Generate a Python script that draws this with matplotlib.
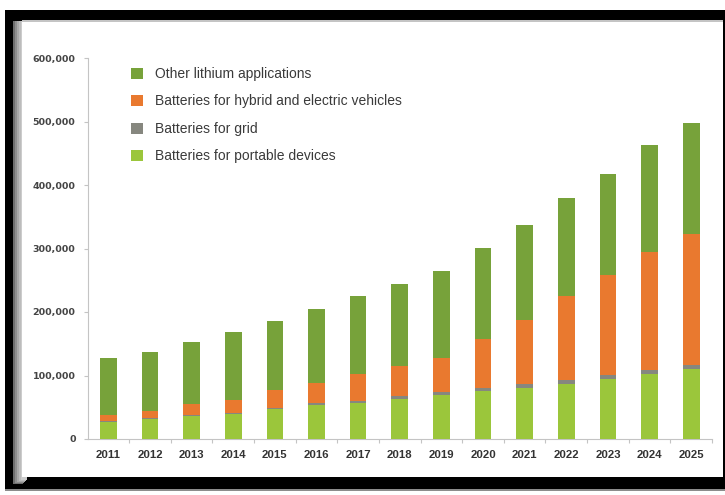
import numpy as np
import matplotlib
matplotlib.use('Agg')
import matplotlib.pyplot as plt
from matplotlib.patches import Rectangle
from matplotlib.ticker import FuncFormatter, MultipleLocator

years = ['2011', '2012', '2013', '2014', '2015', '2016', '2017', '2018',
         '2019', '2020', '2021', '2022', '2023', '2024', '2025']

# tonnes per year, stacked bottom to top
portable = [27500, 31000, 36000, 39500, 46500, 53500, 56500, 63500,
            69500, 75500, 80000, 86500, 95000, 102500, 110000]
grid = [1500, 1500, 2000, 2000, 2500, 2500, 3000, 4000,
        5000, 5000, 7000, 6500, 5500, 6000, 6500]
vehicles = [8500, 12000, 16500, 20500, 28000, 32500, 42500, 47000,
            53000, 76500, 100500, 131500, 158000, 186500, 206500]
other = [89500, 93000, 98500, 106000, 109500, 116500, 123500, 130000,
         137500, 143500, 149500, 155000, 159500, 168000, 174500]

series = [
    ('Batteries for portable devices', portable, '#9bc63b'),
    ('Batteries for grid', grid, '#86877f'),
    ('Batteries for hybrid and electric vehicles', vehicles, '#e9792f'),
    ('Other lithium applications', other, '#77a23a'),
]

W, H = 725, 495
fig = plt.figure(figsize=(W / 100, H / 100), dpi=100, facecolor='white')


def box(x0, y0, x1, y1, color, z=-10, alpha=1.0):
    # pixel box, measured from the top-left corner
    r = Rectangle((x0 / W, 1 - y1 / H), (x1 - x0) / W, (y1 - y0) / H,
                  transform=fig.transFigure, facecolor=color, edgecolor='none',
                  zorder=z, alpha=alpha)
    fig.add_artist(r)


# black frame with a shadowed white card inside
box(5, 10, 725, 489, 'black', z=-20)
box(5, 489, 725, 491, '#8c8c8c', z=-20)
for i, c in enumerate(['#6e6e6e', '#8e8e8e', '#a8a8a8', '#bcbcbc', '#cccccc']):
    box(13 + i * 2, 21, 23 + i, 484 - i, c, z=-19 + i * 0.1)
box(22, 20, 723, 477, 'white', z=-15)
box(22, 20, 723, 21.5, '#c4c4c4', z=-14)

ax = fig.add_axes([88 / W, 1 - 439 / H, 624 / W, 381 / H])
ax.set_facecolor('none')

x = np.arange(len(years))
bottom = np.zeros(len(years))
bars = []
for label, vals, color in series:
    b = ax.bar(x, vals, width=0.4, bottom=bottom, color=color, label=label, zorder=3)
    bars.append(b)
    bottom += np.array(vals)

ax.set_ylim(0, 600000)
ax.set_xlim(-0.49, 14.41)
ax.yaxis.set_major_locator(MultipleLocator(100000))
ax.yaxis.set_major_formatter(FuncFormatter(lambda v, p: '{:,.0f}'.format(v)))

ax.set_xticks(x)
ax.set_xticklabels(years)
ax.set_xticks(np.arange(len(years)) + 0.5, minor=True)
ax.tick_params(axis='x', which='major', length=0, pad=8)
ax.tick_params(axis='x', which='minor', length=3, color='#c4c4c4', width=0.8)
ax.tick_params(axis='y', length=3, color='#c4c4c4', width=0.8, pad=6)

for t in ax.get_xticklabels():
    t.set_family(['Liberation Sans', 'DejaVu Sans'])
    t.set_fontweight('bold')
    t.set_fontsize(8.2)
    t.set_color('#333333')
for t in ax.get_yticklabels():
    t.set_fontweight('bold')
    t.set_fontsize(6.8)
    t.set_color('#444444')

for s in ['top', 'right']:
    ax.spines[s].set_visible(False)
for s in ['left', 'bottom']:
    ax.spines[s].set_color('#c4c4c4')
    ax.spines[s].set_linewidth(0.8)

leg = ax.legend(handles=bars[::-1], loc='upper left',
                bbox_to_anchor=((131 - 88) / 624, (439 - 67) / 381),
                frameon=False, borderpad=0, borderaxespad=0,
                handlelength=0.86, handleheight=0.86, handletextpad=0.86,
                labelspacing=0.97,
                prop={'family': ['Liberation Sans', 'DejaVu Sans'], 'size': 10})
for t in leg.get_texts():
    t.set_color('#3a3a3a')

fig.savefig('out.png', dpi=100, facecolor='white')
